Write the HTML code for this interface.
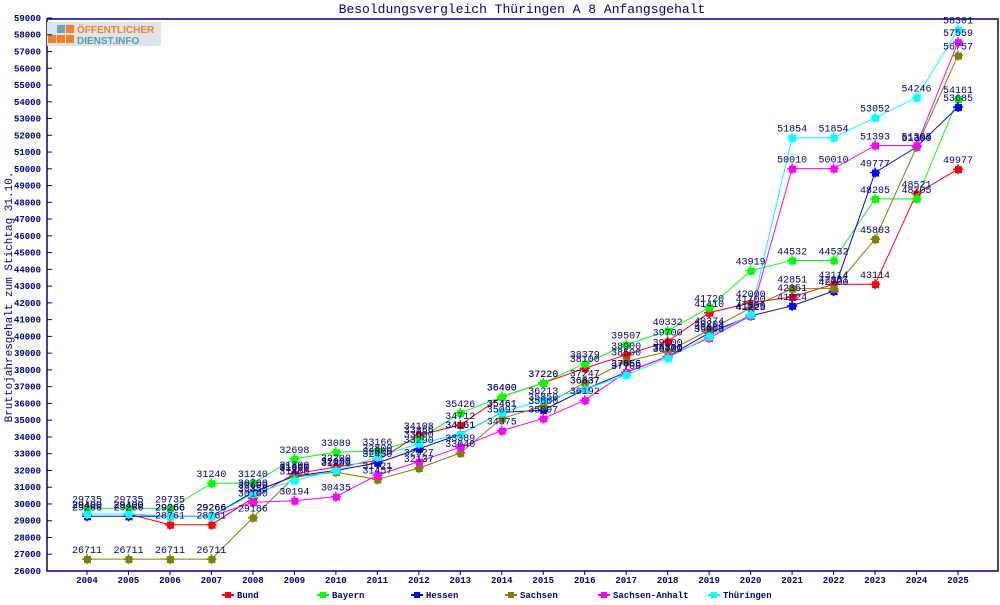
<!DOCTYPE html>
<html><head><meta charset="utf-8"><style>
body{margin:0;background:#fff;width:1000px;height:600px;overflow:hidden}
svg text{font-family:"Liberation Mono",monospace;fill:#000080}
</style></head><body>
<svg id="c" width="1000" height="600" xmlns="http://www.w3.org/2000/svg">
<rect x="47" y="19" width="951" height="552" fill="none" stroke="#000080" stroke-width="1.5"/>
<text x="522" y="13" font-size="13" text-anchor="middle">Besoldungsvergleich Thüringen A 8 Anfangsgehalt</text>
<text transform="translate(12,297) rotate(-90)" font-size="11" text-anchor="middle">Bruttojahresgehalt zum Stichtag 31.10.</text>
<g transform="translate(47,22)">
<rect x="0" y="0" width="114" height="24" fill="#dbe5ea"/>
<rect x="1" y="13" width="8" height="8" fill="#f58220"/><rect x="10" y="13" width="8" height="8" fill="#f58220"/><rect x="19" y="13" width="8" height="8" fill="#f58220"/>
<rect x="10" y="3" width="8" height="8" fill="#6aa8b8"/><rect x="19" y="3" width="8" height="8" fill="#f58220"/>
<text x="30" y="11" font-size="10" font-weight="bold" style="fill:#f58220;font-family:'Liberation Sans',sans-serif">ÖFFENTLICHER</text>
<text x="30" y="22" font-size="10" font-weight="bold" style="fill:#5a9aad;font-family:'Liberation Sans',sans-serif">DIENST.INFO</text>
</g>
<g id="yax" font-size="9" font-weight="bold" text-anchor="end">
<text>26000</text><text>27000</text><text>28000</text><text>29000</text><text>30000</text><text>31000</text><text>32000</text><text>33000</text><text>34000</text><text>35000</text><text>36000</text><text>37000</text><text>38000</text><text>39000</text><text>40000</text><text>41000</text><text>42000</text><text>43000</text><text>44000</text><text>45000</text><text>46000</text><text>47000</text><text>48000</text><text>49000</text><text>50000</text><text>51000</text><text>52000</text><text>53000</text><text>54000</text><text>55000</text><text>56000</text><text>57000</text><text>58000</text><text>59000</text>
</g>
<g id="xax" font-size="9" font-weight="bold" text-anchor="middle">
<text>2004</text><text>2005</text><text>2006</text><text>2007</text><text>2008</text><text>2009</text><text>2010</text><text>2011</text><text>2012</text><text>2013</text><text>2014</text><text>2015</text><text>2016</text><text>2017</text><text>2018</text><text>2019</text><text>2020</text><text>2021</text><text>2022</text><text>2023</text><text>2024</text><text>2025</text>
</g>
<g id="lines"></g>
<g class="s" data-c="#ff0000" font-size="10" text-anchor="middle"><text>29400</text><text>29400</text><text>28761</text><text>28761</text><text>30350</text><text>31800</text><text>32200</text><text>32600</text><text>34108</text><text>34712</text><text>36400</text><text>37220</text><text>38100</text><text>38900</text><text>39700</text><text>41410</text><text>42000</text><text>42351</text><text>43114</text><text>43114</text><text>48521</text><text>49977</text></g>
<g class="s" data-c="#00ff00" font-size="10" text-anchor="middle"><text>29735</text><text>29735</text><text>29735</text><text>31240</text><text>31240</text><text>32698</text><text>33089</text><text>33166</text><text>33866</text><text>35426</text><text>36400</text><text>37220</text><text>38379</text><text>39507</text><text>40332</text><text>41720</text><text>43919</text><text>44532</text><text>44532</text><text>48205</text><text>48205</text><text>54161</text></g>
<g class="s" data-c="#0000ff" font-size="10" text-anchor="middle"><text>29266</text><text>29266</text><text>29266</text><text>29266</text><text>30700</text><text>31660</text><text>32000</text><text>32450</text><text>33290</text><text>34161</text><text>35461</text><text>35600</text><text>36837</text><text>37856</text><text>38800</text><text>40203</text><text>41225</text><text>41824</text><text>42700</text><text>49777</text><text>51300</text><text>53685</text></g>
<g class="s" data-c="#808000" font-size="10" text-anchor="middle"><text>26711</text><text>26711</text><text>26711</text><text>26711</text><text>29186</text><text>31600</text><text>31900</text><text>31457</text><text>32137</text><text>33040</text><text>35097</text><text>35850</text><text>37247</text><text>38500</text><text>39100</text><text>40374</text><text>41700</text><text>42851</text><text>42851</text><text>45803</text><text>51300</text><text>56757</text></g>
<g class="s" data-c="#ff00ff" font-size="10" text-anchor="middle"><text>29400</text><text>29400</text><text>29266</text><text>29266</text><text>30100</text><text>30194</text><text>30435</text><text>31721</text><text>32527</text><text>33389</text><text>34375</text><text>35097</text><text>36192</text><text>37856</text><text>38800</text><text>39903</text><text>41225</text><text>50010</text><text>50010</text><text>51393</text><text>51393</text><text>57559</text></g>
<g class="s" data-c="#00ffff" font-size="10" text-anchor="middle"><text>29400</text><text>29400</text><text>29266</text><text>29266</text><text>30600</text><text>31400</text><text>32000</text><text>32800</text><text>33600</text><text>34161</text><text>35461</text><text>36213</text><text>36837</text><text>37700</text><text>38700</text><text>40000</text><text>41300</text><text>51854</text><text>51854</text><text>53052</text><text>54246</text><text>58301</text></g>
<g id="leg" font-size="9" font-weight="bold">
<text x="237" y="598">Bund</text><text x="332" y="598">Bayern</text><text x="426" y="598">Hessen</text><text x="520" y="598">Sachsen</text><text x="613" y="598">Sachsen-Anhalt</text><text x="723" y="598">Thüringen</text>
</g>
</svg>
<script>
var NS="http://www.w3.org/2000/svg";
function X(i){return 87+41.476*i}
function Y(v){return 571-(v-26000)*0.016758}
function el(t,a,p){var e=document.createElementNS(NS,t);for(var k in a)e.setAttribute(k,a[k]);p.appendChild(e);return e}
var svg=document.getElementById('c');
var yt=document.querySelectorAll('#yax text');
yt.forEach(function(t,i){var y=Y(26000+i*1000);t.setAttribute('x',41);t.setAttribute('y',y+3);el('line',{x1:47,x2:52,y1:y,y2:y,stroke:'#000080'},svg)});
document.querySelectorAll('#xax text').forEach(function(t,i){t.setAttribute('x',X(i));t.setAttribute('y',583);el('line',{x1:X(i),x2:X(i),y1:571,y2:575,stroke:'#000080'},svg)});
var lines=document.getElementById('lines');
var lx=[222,317,411,505,598,708];
document.querySelectorAll('g.s').forEach(function(g,si){
 var c=g.getAttribute('data-c');var pts=[];
 var ts=g.querySelectorAll('text');
 ts.forEach(function(t,i){var v=parseInt(t.textContent);pts.push(X(i)+','+Y(v));t.setAttribute('x',X(i));t.setAttribute('y',Y(v)-6)});
 el('polyline',{points:pts.join(' '),fill:'none',stroke:c,'stroke-width':1},lines);
 ts.forEach(function(t,i){var v=parseInt(t.textContent);var x=X(i),y=Y(v);
  el('rect',{x:x-3,y:y-3,width:7,height:7,fill:c},lines);
  el('path',{d:'M'+(x-5)+' '+y+'h10M'+x+' '+(y-5)+'v10',stroke:c,'stroke-width':1.5},lines);});
 var x=lx[si];el('line',{x1:x,x2:x+12,y1:595,y2:595,stroke:c,'stroke-width':2},svg);
 el('rect',{x:x+3,y:592,width:6,height:6,fill:c},svg);
});
</script>
</body></html>
